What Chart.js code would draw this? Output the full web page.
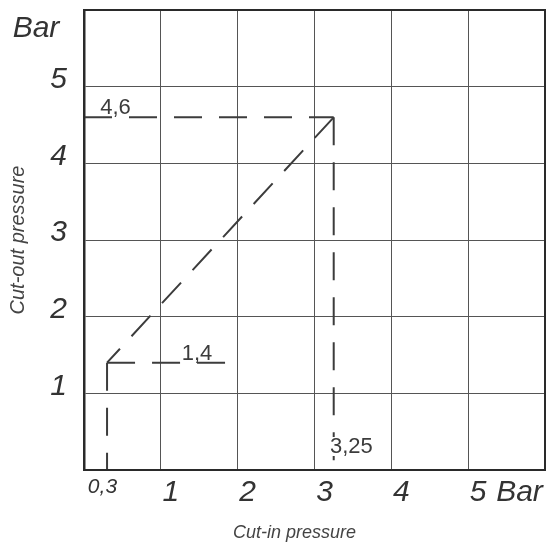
<!DOCTYPE html>
<html>
<head>
<meta charset="utf-8">
<script src="https://cdn.jsdelivr.net/npm/chart.js@4/dist/chart.umd.min.js"></script>
<style>
  html, body { margin: 0; padding: 0; background: #fff; }
  canvas { display: block; }
</style>
</head>
<body>
<canvas id="chart" width="549" height="551"></canvas>
<script>
// ticks
const xTickValues = [0.3, 1, 2, 3, 4, 5];
const xTickLabels = ['0,3', '1', '2', '3', '4', '5'];
const yTickValues = [1, 2, 3, 4, 5];
const yTickLabels = ['1', '2', '3', '4', '5'];

// switching points (bar)
const cutIn = 3.25;
const cutOut = 4.6;
const lowIn = 0.3;
const lowOut = 1.4;
const lowLineEnd = 1.95;

// annotations: [text, x, y]
const notes = [
    ['4,6', 0.41, cutOut],
    ['1,4', 1.47, lowOut],
    ['3,25', 3.48, 0.3]
];

const ink = '#3c3c3c';
const fontFamily = '"Liberation Sans", Arial, sans-serif';
// the scan sets these a bit off-centre; trailing blanks nudge them left
const pad = (s, n) => s + ' '.repeat(n);

const line = (pts) => ({
    data: pts.map(([x, y]) => ({ x, y })),
    showLine: true,
    borderColor: ink,
    borderWidth: 2,
    borderDash: [28, 17],
    pointRadius: 0,
    fill: false
});

const frameAndText = {
    id: 'frameAndText',
    afterDatasetsDraw(chart) {
        const { ctx, chartArea: a, scales: { x, y } } = chart;
        ctx.save();
        // frame
        ctx.strokeStyle = '#2a2a2a';
        ctx.lineWidth = 2;
        ctx.strokeRect(a.left, a.top, a.right - a.left, a.bottom - a.top);

        // value notes
        ctx.font = '22px ' + fontFamily;
        ctx.textAlign = 'center';
        notes.forEach(([t, vx, vy], i) => {
            const px = x.getPixelForValue(vx);
            const py = y.getPixelForValue(vy);
            if (i === 2) {
                const w = ctx.measureText(t).width;
                ctx.fillStyle = '#fff';
                ctx.fillRect(px - w / 2 - 1, py - 10, w + 2, 19);
                ctx.fillStyle = ink;
                ctx.textBaseline = 'middle';
                ctx.fillText(t, px, py);
            } else {
                ctx.fillStyle = ink;
                ctx.textBaseline = 'alphabetic';
                ctx.fillText(t, px, py - 3);
            }
        });

        // unit labels
        ctx.font = 'italic 30px ' + fontFamily;
        ctx.fillStyle = '#333';
        ctx.textBaseline = 'middle';
        ctx.textAlign = 'center';
        ctx.fillText('Bar', y.left + 36, y.getPixelForValue(5.76));
        ctx.textAlign = 'left';
        ctx.fillText('Bar', x.getPixelForValue(5) + 28, x.top + 23);
        ctx.restore();
    }
};

new Chart(document.getElementById('chart'), {
    type: 'scatter',
    data: {
        datasets: [
            line([[0, cutOut], [cutIn, cutOut]]),
            line([[cutIn, cutOut], [cutIn, 0]]),
            line([[cutIn, cutOut], [lowIn, lowOut]]),
            line([[lowIn, lowOut], [lowLineEnd, lowOut]]),
            line([[lowIn, lowOut], [lowIn, 0]])
        ]
    },
    options: {
        responsive: false,
        animation: false,
        layout: { padding: { top: 10, right: 4, bottom: 0, left: 0 } },
        plugins: { legend: { display: false }, tooltip: { enabled: false } },
        scales: {
            x: {
                type: 'linear', min: 0, max: 6,
                afterBuildTicks: (axis) => { axis.ticks = xTickValues.map(v => ({ value: v })); },
                afterFit: (axis) => { axis.height = 81; axis.paddingLeft = 0; axis.paddingRight = 0; },
                grid: {
                    drawTicks: false,
                    lineWidth: 1,
                    color: (c) => (c.tick && c.tick.value === lowIn) ? 'rgba(0,0,0,0)' : '#555'
                },
                border: { display: true, color: '#2a2a2a', width: 2 },
                ticks: {
                    padding: 5,
                    labelOffset: 10,
                    color: '#333',
                    maxRotation: 0,
                    autoSkip: false,
                    font: (c) => ({ family: fontFamily, style: 'italic', size: (c.tick && c.tick.value === lowIn) ? 21 : 30 }),
                    callback: (v, i) => i === 0 ? pad(xTickLabels[i], 5) : xTickLabels[i]
                },
                title: {
                    display: true,
                    text: pad('Cut-in pressure', 8),
                    color: '#444',
                    font: { family: fontFamily, style: 'italic', size: 18 },
                    padding: { top: 0, bottom: 7 }
                }
            },
            y: {
                type: 'linear', min: 0, max: 6,
                afterBuildTicks: (axis) => { axis.ticks = yTickValues.map(v => ({ value: v })); },
                afterFit: (axis) => { axis.width = 84; axis.paddingTop = 0; axis.paddingBottom = 0; },
                grid: { drawTicks: false, lineWidth: 1, color: '#555' },
                border: { display: true, color: '#2a2a2a', width: 2.5 },
                ticks: {
                    padding: 17,
                    labelOffset: -7,
                    color: '#333',
                    autoSkip: false,
                    font: { family: fontFamily, style: 'italic', size: 30 },
                    callback: (v, i) => yTickLabels[i]
                },
                title: {
                    display: true,
                    text: 'Cut-out pressure',
                    color: '#444',
                    font: { family: fontFamily, style: 'italic', size: 20 },
                    padding: { top: 6, bottom: 0 }
                }
            }
        }
    },
    plugins: [frameAndText]
});
</script>
</body>
</html>
